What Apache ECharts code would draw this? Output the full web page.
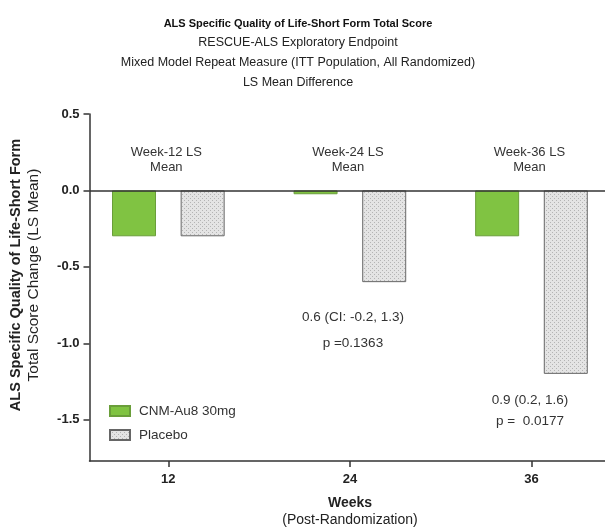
<!DOCTYPE html>
<html><head><meta charset="utf-8">
<script src="https://cdn.jsdelivr.net/npm/echarts@6/dist/echarts.min.js"></script>
<style>html,body{margin:0;padding:0;background:#fff}#c{width:605px;height:528px}</style>
</head><body><div id="c"></div>
<script>
// ---- data ----
var weeks = [12, 24, 36];
var seriesNames = ['CNM-Au8 30mg', 'Placebo'];
var cnmValues = [-0.30, -0.025, -0.30];
var placeboValues = [-0.30, -0.60, -1.20];
var yTicks = [0.5, 0.0, -0.5, -1.0, -1.5];
var weekNotes = ['Week-12 LS\nMean', 'Week-24 LS\nMean', 'Week-36 LS\nMean'];
var diffNotes = [null, ['0.6 (CI: -0.2, 1.3)', 'p =0.1363'], ['0.9 (0.2, 1.6)', 'p =  0.0177']];

var FONT = '"Liberation Sans", Arial, sans-serif';

// dotted pattern for placebo
var pc = document.createElement('canvas');
pc.width = 4; pc.height = 4;
var g = pc.getContext('2d');
g.fillStyle = '#e4e4e4'; g.fillRect(0, 0, 4, 4);
g.fillStyle = '#b4b4b4'; g.fillRect(0, 0, 1, 1); g.fillRect(2, 2, 1, 1);

var chart = echarts.init(document.getElementById('c'), null, {renderer: 'canvas'});

var graphics = [];
// y-axis title
graphics.push({
  type: 'text', x: 25, y: 275, rotation: Math.PI / 2,
  style: {
    text: '{b|ALS Specific Quality of Life-Short Form}\n{r|Total Score Change (LS Mean)}',
    align: 'center', verticalAlign: 'middle', fill: '#222',
    rich: {
      b: {fontFamily: FONT, fontWeight: 'bold', fontSize: 14.5, lineHeight: 18, fill: '#222'},
      r: {fontFamily: FONT, fontSize: 15.5, lineHeight: 18, fill: '#222'}
    }
  }
});
// x-axis title
graphics.push({type: 'text', x: 350, y: 503, style: {text: 'Weeks', font: 'bold 14px ' + FONT, fill: '#222', align: 'center', verticalAlign: 'middle'}});
graphics.push({type: 'text', x: 350, y: 520, style: {text: '(Post-Randomization)', font: '14px ' + FONT, fill: '#222', align: 'center', verticalAlign: 'middle'}});

var option = {
  animation: false,
  backgroundColor: '#fff',
  title: {
    text: 'ALS Specific Quality of Life-Short Form Total Score',
    subtext: 'RESCUE-ALS Exploratory Endpoint\nMixed Model Repeat Measure (ITT Population, All Randomized)\nLS Mean Difference',
    left: 293, top: 11, textAlign: 'center', itemGap: 1,
    textStyle: {fontFamily: FONT, fontWeight: 'bold', fontSize: 11, color: '#111', lineHeight: 16},
    subtextStyle: {fontFamily: FONT, fontSize: 12.5, color: '#222', lineHeight: 20}
  },
  legend: {
    orient: 'vertical', left: 104, top: 399, itemWidth: 20, itemHeight: 10, itemGap: 10,
    icon: 'rect',
    data: seriesNames,
    textStyle: {fontFamily: FONT, fontSize: 13.5, color: '#333', padding: [0, 0, 0, 4]}
  },
  grid: {left: 89.5, right: 0, top: 114, bottom: 67, containLabel: false},
  xAxis: {
    type: 'value', min: 6.79, max: 40.86,
    splitLine: {show: false},
    axisLine: {onZero: false, lineStyle: {color: '#333', width: 1.5}},
    axisTick: {show: true, length: 6, customValues: weeks, lineStyle: {color: '#333', width: 1.5}},
    axisLabel: {customValues: weeks, fontFamily: FONT, fontWeight: 'bold', fontSize: 13, color: '#222', margin: 12}
  },
  yAxis: {
    type: 'value', min: -1.77, max: 0.5,
    splitLine: {show: false},
    axisLine: {show: true, lineStyle: {color: '#333', width: 1.5}},
    axisTick: {show: true, length: 6, customValues: yTicks, lineStyle: {color: '#333', width: 1.5}},
    axisLabel: {customValues: yTicks, formatter: function (v) { return v.toFixed(1); },
      fontFamily: FONT, fontWeight: 'bold', fontSize: 13, color: '#222', margin: 10}
  },
  series: [
    {
      name: seriesNames[0], type: 'bar', barWidth: 44, barGap: '56%',
      data: weeks.map(function (w, i) { return [w, cnmValues[i]]; }),
      itemStyle: {color: '#80c342', borderColor: '#6a9e3a', borderWidth: 1},
      markLine: {
        silent: true, symbol: 'none', label: {show: false},
        lineStyle: {color: '#333', width: 1.5, type: 'solid'},
        data: [{yAxis: 0}]
      },
      z: 2
    },
    {
      name: seriesNames[1], type: 'bar', barWidth: 44,
      data: weeks.map(function (w, i) { return [w, placeboValues[i]]; }),
      itemStyle: {color: {image: pc, repeat: 'repeat'}, borderColor: '#666', borderWidth: 1},
      z: 2
    }
  ],
  graphic: graphics
};
chart.setOption(option);

// annotations anchored to data coordinates
var extra = [];
weeks.forEach(function (w, i) {
  var px = chart.convertToPixel({gridIndex: 0}, [w, 0.2]);
  extra.push({type: 'text', x: px[0] - 2, y: px[1], style: {text: weekNotes[i], font: '13px ' + FONT, fill: '#333', align: 'center', verticalAlign: 'middle', lineHeight: 15}});
});
var p24 = chart.convertToPixel({gridIndex: 0}, [24.2, -0.913]);
extra.push({type: 'text', x: p24[0], y: p24[1], style: {text: diffNotes[1].join('\n'), font: '13.5px ' + FONT, fill: '#333', align: 'center', verticalAlign: 'middle', lineHeight: 26}});
var p36 = chart.convertToPixel({gridIndex: 0}, [35.9, -1.44]);
extra.push({type: 'text', x: p36[0], y: p36[1], style: {text: diffNotes[2].join('\n'), font: '13.5px ' + FONT, fill: '#333', align: 'center', verticalAlign: 'middle', lineHeight: 21}});
chart.setOption({graphic: graphics.concat(extra)});
</script></body></html>
